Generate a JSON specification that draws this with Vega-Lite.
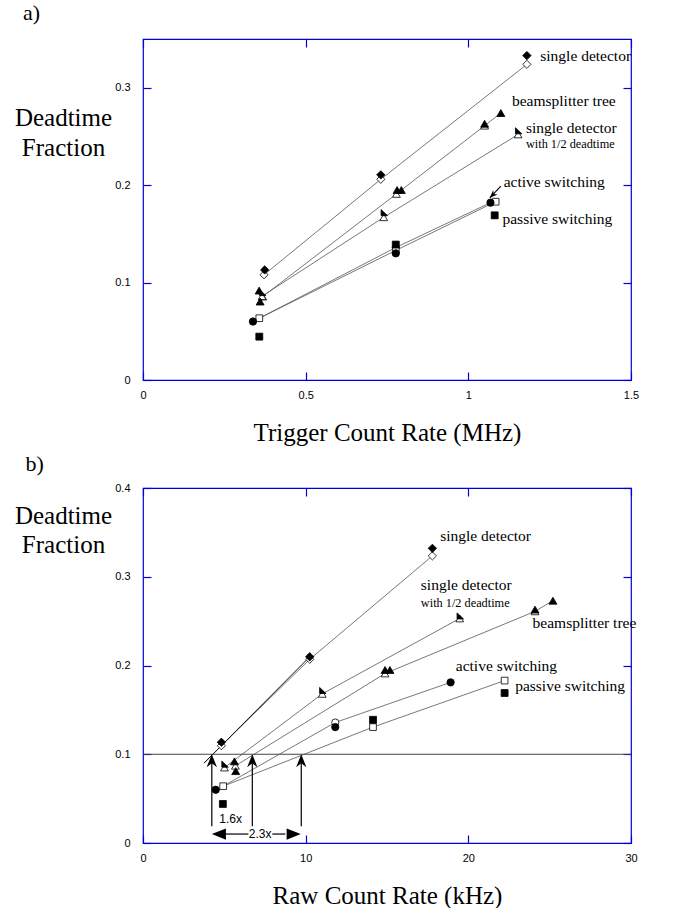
{
  "$schema": "https://vega.github.io/schema/vega-lite/v6.json",
  "autosize": {"type": "none"},
  "padding": {"left": 143, "top": 39, "right": 532, "bottom": 869},
  "background": "white",
  "bounds": "flush",
  "spacing": 108,
  "config": {
    "view": {"stroke": "#0000DD", "strokeWidth": 1.2},
    "axis": {
      "labelFont": "Liberation Sans", "labelFontSize": 11, "labelColor": "black",
      "titleFont": "Liberation Serif", "titleFontSize": 25, "titleFontWeight": "normal", "titleColor": "black",
      "tickColor": "#0000DD", "tickSize": -8, "tickWidth": 1.2, "domain": false, "grid": false,
      "labelFlush": false, "labelOverlap": false
    }
  },
  "datasets": {
    "pa": [
      {"x": 0.372, "y": 0.108, "s": "Odiamond"},
      {"x": 0.731, "y": 0.206, "s": "Odiamond"},
      {"x": 1.180, "y": 0.324, "s": "Odiamond"},
      {"x": 0.368, "y": 0.0856, "s": "Otri"},
      {"x": 0.779, "y": 0.191, "s": "Otri"},
      {"x": 1.050, "y": 0.261, "s": "Otri"},
      {"x": 0.366, "y": 0.086, "s": "Otri"},
      {"x": 0.740, "y": 0.167, "s": "Otri"},
      {"x": 1.153, "y": 0.252, "s": "Otri"},
      {"x": 0.777, "y": 0.136, "s": "Ocircle"},
      {"x": 0.3575, "y": 0.0634, "s": "Osquare"},
      {"x": 0.777, "y": 0.133, "s": "Osquare"},
      {"x": 1.084, "y": 0.183, "s": "Osquare"},
      {"x": 0.374, "y": 0.113, "s": "Fdiamond"},
      {"x": 0.731, "y": 0.2106, "s": "Fdiamond"},
      {"x": 1.180, "y": 0.333, "s": "Fdiamond"},
      {"x": 0.357, "y": 0.0918, "s": "Ftri"},
      {"x": 0.360, "y": 0.0805, "s": "Ftri"},
      {"x": 0.781, "y": 0.195, "s": "Ftri"},
      {"x": 0.794, "y": 0.195, "s": "Ftri"},
      {"x": 1.050, "y": 0.263, "s": "Ftri"},
      {"x": 1.100, "y": 0.274, "s": "Ftri"},
      {"x": 0.366, "y": 0.089, "s": "Half"},
      {"x": 0.740, "y": 0.171, "s": "Half"},
      {"x": 1.153, "y": 0.255, "s": "Half"},
      {"x": 0.3575, "y": 0.0445, "s": "Fsquare"},
      {"x": 0.777, "y": 0.139, "s": "Fsquare"},
      {"x": 1.081, "y": 0.169, "s": "Fsquare"},
      {"x": 0.338, "y": 0.060, "s": "Fcircle"},
      {"x": 0.777, "y": 0.130, "s": "Fcircle"},
      {"x": 1.068, "y": 0.182, "s": "Fcircle"}
    ],
    "la": [
      {"line": "SD", "o": 1, "x": 0.372, "y": 0.108},
      {"line": "SD", "o": 2, "x": 0.731, "y": 0.206},
      {"line": "SD", "o": 3, "x": 1.180, "y": 0.324},
      {"line": "HD", "o": 1, "x": 0.366, "y": 0.086},
      {"line": "HD", "o": 2, "x": 0.740, "y": 0.167},
      {"line": "HD", "o": 3, "x": 1.153, "y": 0.252},
      {"line": "BT", "o": 1, "x": 0.368, "y": 0.0856},
      {"line": "BT", "o": 2, "x": 0.779, "y": 0.191},
      {"line": "BT", "o": 3, "x": 1.050, "y": 0.261},
      {"line": "BT", "o": 4, "x": 1.100, "y": 0.274},
      {"line": "AS", "o": 1, "x": 0.3575, "y": 0.0634},
      {"line": "AS", "o": 2, "x": 0.777, "y": 0.136},
      {"line": "AS", "o": 3, "x": 1.068, "y": 0.182},
      {"line": "PS", "o": 1, "x": 0.3575, "y": 0.0634},
      {"line": "PS", "o": 2, "x": 0.777, "y": 0.133},
      {"line": "PS", "o": 3, "x": 1.084, "y": 0.183}
    ],
    "ta": [
      {"x": 1.221, "y": 0.333, "t": "single detector", "k": "main"},
      {"x": 1.134, "y": 0.2867, "t": "beamsplitter tree", "k": "main"},
      {"x": 1.177, "y": 0.2587, "t": "single detector", "k": "main"},
      {"x": 1.177, "y": 0.2422, "t": "with 1/2 deadtime", "k": "sub"},
      {"x": 1.1085, "y": 0.2032, "t": "active switching", "k": "main"},
      {"x": 1.105, "y": 0.1652, "t": "passive switching", "k": "main"}
    ],
    "panA": [{"x": -0.369, "y": 0.369, "t": "a)"}],
    "arrA": [
      {"x": 1.100, "y": 0.199, "x2": 1.066, "y2": 0.187}
    ],
    "pb": [
      {"x": 4.82, "y": 0.1096, "s": "Odiamond"},
      {"x": 10.25, "y": 0.207, "s": "Odiamond"},
      {"x": 17.79, "y": 0.3235, "s": "Odiamond"},
      {"x": 5.68, "y": 0.087, "s": "Otri"},
      {"x": 14.88, "y": 0.191, "s": "Otri"},
      {"x": 24.1, "y": 0.261, "s": "Otri"},
      {"x": 5.01, "y": 0.085, "s": "Otri"},
      {"x": 11.02, "y": 0.168, "s": "Otri"},
      {"x": 19.47, "y": 0.253, "s": "Otri"},
      {"x": 11.82, "y": 0.1358, "s": "Ocircle"},
      {"x": 4.93, "y": 0.064, "s": "Osquare"},
      {"x": 14.14, "y": 0.1306, "s": "Osquare"},
      {"x": 22.23, "y": 0.183, "s": "Osquare"},
      {"x": 4.82, "y": 0.1135, "s": "Fdiamond"},
      {"x": 10.25, "y": 0.2098, "s": "Fdiamond"},
      {"x": 17.79, "y": 0.332, "s": "Fdiamond"},
      {"x": 5.62, "y": 0.092, "s": "Ftri"},
      {"x": 5.70, "y": 0.081, "s": "Ftri"},
      {"x": 14.88, "y": 0.195, "s": "Ftri"},
      {"x": 15.18, "y": 0.195, "s": "Ftri"},
      {"x": 24.1, "y": 0.263, "s": "Ftri"},
      {"x": 25.2, "y": 0.273, "s": "Ftri"},
      {"x": 5.01, "y": 0.088, "s": "Half"},
      {"x": 11.02, "y": 0.171, "s": "Half"},
      {"x": 19.47, "y": 0.255, "s": "Half"},
      {"x": 4.91, "y": 0.044, "s": "Fsquare"},
      {"x": 14.14, "y": 0.1388, "s": "Fsquare"},
      {"x": 22.23, "y": 0.169, "s": "Fsquare"},
      {"x": 4.47, "y": 0.060, "s": "Fcircle"},
      {"x": 11.82, "y": 0.1306, "s": "Fcircle"},
      {"x": 18.91, "y": 0.181, "s": "Fcircle"}
    ],
    "lb": [
      {"line": "SD", "o": 1, "x": 3.75, "y": 0.090},
      {"line": "SD", "o": 2, "x": 4.82, "y": 0.1096},
      {"line": "SD", "o": 3, "x": 10.25, "y": 0.207},
      {"line": "SD", "o": 4, "x": 17.79, "y": 0.3235},
      {"line": "HD", "o": 1, "x": 5.01, "y": 0.085},
      {"line": "HD", "o": 2, "x": 11.02, "y": 0.168},
      {"line": "HD", "o": 3, "x": 19.47, "y": 0.253},
      {"line": "BT", "o": 1, "x": 5.68, "y": 0.087},
      {"line": "BT", "o": 2, "x": 14.88, "y": 0.191},
      {"line": "BT", "o": 3, "x": 24.1, "y": 0.261},
      {"line": "BT", "o": 4, "x": 25.2, "y": 0.273},
      {"line": "AS", "o": 1, "x": 4.93, "y": 0.064},
      {"line": "AS", "o": 2, "x": 11.82, "y": 0.1358},
      {"line": "AS", "o": 3, "x": 18.91, "y": 0.181},
      {"line": "PS", "o": 1, "x": 4.93, "y": 0.064},
      {"line": "PS", "o": 2, "x": 14.14, "y": 0.1306},
      {"line": "PS", "o": 3, "x": 22.23, "y": 0.183}
    ],
    "lbx": [
      {"o": 1, "x": 3.75, "y": 0.090},
      {"o": 2, "x": 10.25, "y": 0.2098}
    ],
    "tb": [
      {"x": 18.27, "y": 0.3455, "t": "single detector", "k": "main"},
      {"x": 17.08, "y": 0.291, "t": "single detector", "k": "main"},
      {"x": 17.08, "y": 0.2704, "t": "with 1/2 deadtime", "k": "sub"},
      {"x": 23.95, "y": 0.2479, "t": "beamsplitter tree", "k": "main"},
      {"x": 19.23, "y": 0.1998, "t": "active switching", "k": "main"},
      {"x": 22.88, "y": 0.1765, "t": "passive switching", "k": "main"}
    ],
    "panB": [{"x": -7.23, "y": 0.4195, "t": "b)"}],
    "hline": [{"x": 0, "x2": 30, "y": 0.1}],
    "varr": [
      {"x": 4.23, "y": 0.0188, "y2": 0.095},
      {"x": 6.72, "y": 0.0188, "y2": 0.095},
      {"x": 9.73, "y": 0.0188, "y2": 0.095}
    ],
    "harr": [
      {"x": 5.1, "x2": 6.48, "y": 0.0101},
      {"x": 7.95, "x2": 8.75, "y": 0.0101}
    ],
    "heads": [
      {"x": 4.23, "y": 0.1, "d": "up"},
      {"x": 6.72, "y": 0.1, "d": "up"},
      {"x": 9.73, "y": 0.1, "d": "up"},
      {"x": 4.23, "y": 0.0101, "d": "left"},
      {"x": 9.70, "y": 0.0101, "d": "right"}
    ],
    "ratio": [
      {"x": 5.39, "y": 0.0274, "t": "1.6x"},
      {"x": 7.2, "y": 0.0101, "t": "2.3x"}
    ]
  },
  "vconcat": [
    {
      "width": 488,
      "height": 341,
      "resolve": {"axis": {"x": "independent", "y": "independent"}},
      "layer": [
        {
          "data": {"name": "la"},
          "mark": {"type": "line", "color": "#555555", "strokeWidth": 0.8},
          "encoding": {
            "x": {"field": "x", "type": "quantitative", "scale": {"domain": [0, 1.5], "nice": false, "zero": false},
                  "axis": {"orient": "top", "labels": false, "values": [0, 0.5, 1, 1.5], "title": null}},
            "y": {"field": "y", "type": "quantitative", "scale": {"domain": [0, 0.35], "nice": false, "zero": false},
                  "axis": {"orient": "right", "labels": false, "values": [0, 0.1, 0.2, 0.3], "title": null}},
            "detail": {"field": "line"},
            "order": {"field": "o"}
          }
        },
        {
          "data": {"name": "arrA"},
          "mark": {"type": "rule", "color": "black", "strokeWidth": 1.1},
          "encoding": {
            "x": {"field": "x", "type": "quantitative", "axis": null},
            "y": {"field": "y", "type": "quantitative", "axis": null},
            "x2": {"field": "x2"},
            "y2": {"field": "y2"}
          }
        },
        {
          "data": {"name": "arrA"},
          "mark": {"type": "point", "filled": true, "color": "black", "opacity": 1, "shape": "M0,0L0.75,1.9L0,1.3L-0.75,1.9Z", "size": 70, "angle": 225},
          "encoding": {
            "x": {"field": "x2", "type": "quantitative", "axis": null},
            "y": {"field": "y2", "type": "quantitative", "axis": null}
          }
        },
        {
          "data": {"name": "pa"},
          "mark": {"type": "point", "filled": true, "stroke": "black", "strokeWidth": 0.8, "opacity": 1},
          "encoding": {
            "x": {"field": "x", "type": "quantitative", "scale": {"domain": [0, 1.5], "nice": false, "zero": false},
                  "axis": {"orient": "bottom", "values": [0, 0.5, 1, 1.5], "format": "~g", "labelPadding": 17,
                           "title": "Trigger Count Rate (MHz)", "titleX": 244, "titleY": 60, "titleAlign": "center", "titleBaseline": "alphabetic"}},
            "y": {"field": "y", "type": "quantitative", "scale": {"domain": [0, 0.35], "nice": false, "zero": false},
                  "axis": {"orient": "left", "values": [0, 0.1, 0.2, 0.3], "format": "~g", "labelPadding": 21,
                           "title": ["Deadtime", "Fraction"], "titleAngle": 0, "titleAlign": "center", "titleBaseline": "middle",
                           "titleX": -80, "titleY": 78, "titleLineHeight": 30}},
            "shape": {"field": "s", "type": "nominal", "legend": null,
                      "scale": {"domain": ["Fdiamond", "Odiamond", "Ftri", "Otri", "Half", "Fcircle", "Ocircle", "Fsquare", "Osquare"],
                                "range": ["diamond", "diamond", "triangle-up", "triangle-up", "M-0.7,-1L1,0.6L-0.7,0.6Z", "circle", "circle", "square", "square"]}},
            "fill": {"field": "s", "type": "nominal", "legend": null,
                     "scale": {"domain": ["Fdiamond", "Odiamond", "Ftri", "Otri", "Half", "Fcircle", "Ocircle", "Fsquare", "Osquare"],
                               "range": ["black", "white", "black", "white", "black", "black", "white", "black", "white"]}},
            "size": {"field": "s", "type": "ordinal", "legend": null,
                     "scale": {"domain": ["Fdiamond", "Odiamond", "Ftri", "Otri", "Half", "Fcircle", "Ocircle", "Fsquare", "Osquare"],
                               "range": [70, 45, 100, 75, 90, 85, 55, 80, 55]}}
          }
        },
        {
          "data": {"name": "ta"},
          "transform": [{"filter": "datum.k == 'main'"}],
          "mark": {"type": "text", "align": "left", "baseline": "middle", "font": "Liberation Serif", "fontSize": 15.5, "color": "black"},
          "encoding": {
            "x": {"field": "x", "type": "quantitative", "axis": null},
            "y": {"field": "y", "type": "quantitative", "axis": null},
            "text": {"field": "t"}
          }
        },
        {
          "data": {"name": "ta"},
          "transform": [{"filter": "datum.k == 'sub'"}],
          "mark": {"type": "text", "align": "left", "baseline": "middle", "font": "Liberation Serif", "fontSize": 12.3, "color": "black"},
          "encoding": {
            "x": {"field": "x", "type": "quantitative", "axis": null},
            "y": {"field": "y", "type": "quantitative", "axis": null},
            "text": {"field": "t"}
          }
        },
        {
          "data": {"name": "panA"},
          "mark": {"type": "text", "align": "left", "baseline": "alphabetic", "font": "Liberation Serif", "fontSize": 22, "color": "black"},
          "encoding": {
            "x": {"field": "x", "type": "quantitative", "axis": null},
            "y": {"field": "y", "type": "quantitative", "axis": null},
            "text": {"field": "t"}
          }
        }
      ]
    },
    {
      "width": 488,
      "height": 355,
      "resolve": {"axis": {"x": "independent", "y": "independent"}},
      "layer": [
        {
          "data": {"name": "hline"},
          "mark": {"type": "rule", "color": "#444444", "strokeWidth": 1},
          "encoding": {
            "x": {"field": "x", "type": "quantitative", "scale": {"domain": [0, 30], "nice": false, "zero": false},
                  "axis": {"orient": "top", "labels": false, "values": [0, 10, 20, 30], "title": null}},
            "x2": {"field": "x2"},
            "y": {"field": "y", "type": "quantitative", "scale": {"domain": [0, 0.4], "nice": false, "zero": false},
                  "axis": {"orient": "right", "labels": false, "values": [0, 0.1, 0.2, 0.3, 0.4], "title": null}}
          }
        },
        {
          "data": {"name": "lb"},
          "mark": {"type": "line", "color": "#555555", "strokeWidth": 0.8},
          "encoding": {
            "x": {"field": "x", "type": "quantitative", "axis": null},
            "y": {"field": "y", "type": "quantitative", "axis": null},
            "detail": {"field": "line"},
            "order": {"field": "o"}
          }
        },
        {
          "data": {"name": "lbx"},
          "mark": {"type": "line", "color": "#111111", "strokeWidth": 1},
          "encoding": {
            "x": {"field": "x", "type": "quantitative", "axis": null},
            "y": {"field": "y", "type": "quantitative", "axis": null},
            "order": {"field": "o"}
          }
        },
        {
          "data": {"name": "varr"},
          "mark": {"type": "rule", "color": "black", "strokeWidth": 1.2},
          "encoding": {
            "x": {"field": "x", "type": "quantitative", "axis": null},
            "y": {"field": "y", "type": "quantitative", "axis": null},
            "y2": {"field": "y2"}
          }
        },
        {
          "data": {"name": "harr"},
          "mark": {"type": "rule", "color": "black", "strokeWidth": 1.2},
          "encoding": {
            "x": {"field": "x", "type": "quantitative", "axis": null},
            "x2": {"field": "x2"},
            "y": {"field": "y", "type": "quantitative", "axis": null}
          }
        },
        {
          "data": {"name": "heads"},
          "transform": [{"filter": "datum.d == 'up'"}],
          "mark": {"type": "point", "filled": true, "color": "black", "opacity": 1, "size": 190, "shape": "M0,0L0.75,1.9L0,1.3L-0.75,1.9Z"},
          "encoding": {
            "x": {"field": "x", "type": "quantitative", "axis": null},
            "y": {"field": "y", "type": "quantitative", "axis": null}
          }
        },
        {
          "data": {"name": "heads"},
          "transform": [{"filter": "datum.d == 'left'"}],
          "mark": {"type": "point", "filled": true, "color": "black", "opacity": 1, "size": 200, "shape": "M0,0L2,-0.8L2,0.8Z"},
          "encoding": {
            "x": {"field": "x", "type": "quantitative", "axis": null},
            "y": {"field": "y", "type": "quantitative", "axis": null}
          }
        },
        {
          "data": {"name": "heads"},
          "transform": [{"filter": "datum.d == 'right'"}],
          "mark": {"type": "point", "filled": true, "color": "black", "opacity": 1, "size": 200, "shape": "M0,0L-2,-0.8L-2,0.8Z"},
          "encoding": {
            "x": {"field": "x", "type": "quantitative", "axis": null},
            "y": {"field": "y", "type": "quantitative", "axis": null}
          }
        },
        {
          "data": {"name": "ratio"},
          "mark": {"type": "text", "align": "center", "baseline": "middle", "font": "Liberation Sans", "fontSize": 12, "color": "black"},
          "encoding": {
            "x": {"field": "x", "type": "quantitative", "axis": null},
            "y": {"field": "y", "type": "quantitative", "axis": null},
            "text": {"field": "t"}
          }
        },
        {
          "data": {"name": "pb"},
          "mark": {"type": "point", "filled": true, "stroke": "black", "strokeWidth": 0.8, "opacity": 1},
          "encoding": {
            "x": {"field": "x", "type": "quantitative", "scale": {"domain": [0, 30], "nice": false, "zero": false},
                  "axis": {"orient": "bottom", "values": [0, 10, 20, 30], "format": "d", "labelPadding": 17,
                           "title": "Raw Count Rate (kHz)", "titleX": 244, "titleY": 60, "titleAlign": "center", "titleBaseline": "alphabetic"}},
            "y": {"field": "y", "type": "quantitative", "scale": {"domain": [0, 0.4], "nice": false, "zero": false},
                  "axis": {"orient": "left", "values": [0, 0.1, 0.2, 0.3, 0.4], "format": "~g", "labelPadding": 21,
                           "title": ["Deadtime", "Fraction"], "titleAngle": 0, "titleAlign": "center", "titleBaseline": "middle",
                           "titleX": -80, "titleY": 27, "titleLineHeight": 29}},
            "shape": {"field": "s", "type": "nominal", "legend": null,
                      "scale": {"domain": ["Fdiamond", "Odiamond", "Ftri", "Otri", "Half", "Fcircle", "Ocircle", "Fsquare", "Osquare"],
                                "range": ["diamond", "diamond", "triangle-up", "triangle-up", "M-0.7,-1L1,0.6L-0.7,0.6Z", "circle", "circle", "square", "square"]}},
            "fill": {"field": "s", "type": "nominal", "legend": null,
                     "scale": {"domain": ["Fdiamond", "Odiamond", "Ftri", "Otri", "Half", "Fcircle", "Ocircle", "Fsquare", "Osquare"],
                               "range": ["black", "white", "black", "white", "black", "black", "white", "black", "white"]}},
            "size": {"field": "s", "type": "ordinal", "legend": null,
                     "scale": {"domain": ["Fdiamond", "Odiamond", "Ftri", "Otri", "Half", "Fcircle", "Ocircle", "Fsquare", "Osquare"],
                               "range": [70, 45, 100, 75, 90, 85, 55, 80, 55]}}
          }
        },
        {
          "data": {"name": "tb"},
          "transform": [{"filter": "datum.k == 'main'"}],
          "mark": {"type": "text", "align": "left", "baseline": "middle", "font": "Liberation Serif", "fontSize": 15.5, "color": "black"},
          "encoding": {
            "x": {"field": "x", "type": "quantitative", "axis": null},
            "y": {"field": "y", "type": "quantitative", "axis": null},
            "text": {"field": "t"}
          }
        },
        {
          "data": {"name": "tb"},
          "transform": [{"filter": "datum.k == 'sub'"}],
          "mark": {"type": "text", "align": "left", "baseline": "middle", "font": "Liberation Serif", "fontSize": 12.3, "color": "black"},
          "encoding": {
            "x": {"field": "x", "type": "quantitative", "axis": null},
            "y": {"field": "y", "type": "quantitative", "axis": null},
            "text": {"field": "t"}
          }
        },
        {
          "data": {"name": "panB"},
          "mark": {"type": "text", "align": "left", "baseline": "alphabetic", "font": "Liberation Serif", "fontSize": 22, "color": "black"},
          "encoding": {
            "x": {"field": "x", "type": "quantitative", "axis": null},
            "y": {"field": "y", "type": "quantitative", "axis": null},
            "text": {"field": "t"}
          }
        }
      ]
    }
  ]
}
